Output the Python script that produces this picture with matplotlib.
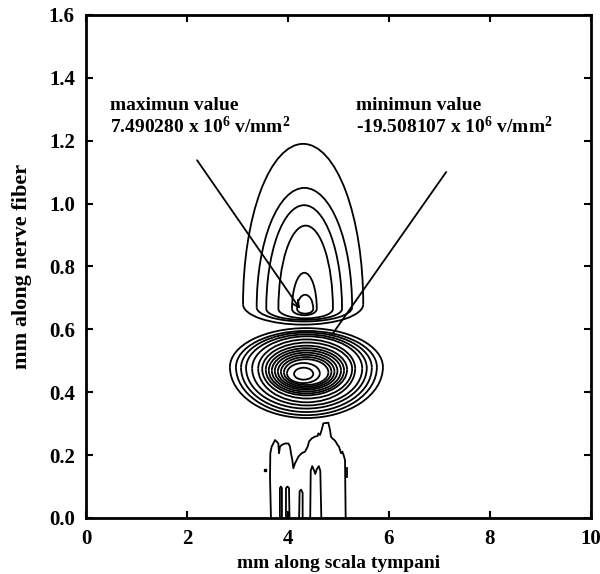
import matplotlib
matplotlib.use("Agg")
import matplotlib.pyplot as plt
from matplotlib.patches import Arc

plt.rcParams['font.family'] = ['Liberation Serif', 'DejaVu Serif']
plt.rcParams['font.weight'] = 'bold'
plt.rcParams['axes.labelweight'] = 'bold'
plt.rcParams['mathtext.fontset'] = 'custom'
plt.rcParams['mathtext.rm'] = 'Liberation Serif:bold'
plt.rcParams['mathtext.it'] = 'Liberation Serif:bold'
plt.rcParams['mathtext.default'] = 'rm'

# upper (positive) lobe rings: left, right, widest y, top, bottom
up_left = [3.11, 3.38, 3.57, 3.81, 4.08, 4.18]
up_right = [5.49, 5.27, 5.07, 4.89, 4.57, 4.50]
up_mid = [0.68, 0.67, 0.665, 0.665, 0.665, 0.665]
up_top = [1.19, 1.05, 0.995, 0.93, 0.78, 0.71]
up_bot = [0.615, 0.625, 0.63, 0.635, 0.645, 0.65]

# lower (negative) lobe rings
lo_left = [2.85, 2.97, 3.07, 3.17, 3.29, 3.41, 3.49, 3.56, 3.62, 3.68, 3.74, 3.80, 3.86, 3.92, 3.98, 4.12]
lo_right = [5.88, 5.76, 5.66, 5.56, 5.47, 5.33, 5.27, 5.17, 5.11, 5.05, 4.98, 4.92, 4.86, 4.80, 4.63, 4.50]
lo_mid = [0.48, 0.48, 0.478, 0.477, 0.476, 0.475, 0.474, 0.472, 0.470, 0.469, 0.468, 0.466, 0.465, 0.463, 0.460, 0.458]
lo_top = [0.604, 0.595, 0.590, 0.584, 0.578, 0.568, 0.558, 0.548, 0.540, 0.533, 0.526, 0.519, 0.512, 0.505, 0.493, 0.478]
lo_bot = [0.318, 0.327, 0.337, 0.348, 0.358, 0.368, 0.380, 0.390, 0.396, 0.402, 0.408, 0.413, 0.418, 0.423, 0.429, 0.440]

# jagged contour near the bottom
base_x = [3.663, 3.644, 3.650, 3.677, 3.710, 3.743, 3.776, 3.809, 3.822, 3.842, 3.875, 3.941,
          4.007, 4.040, 4.059, 4.086, 4.106, 4.139, 4.172, 4.205, 4.271, 4.337, 4.390, 4.416,
          4.469, 4.535, 4.588, 4.601, 4.634, 4.667, 4.700, 4.799, 4.832, 4.851, 4.878, 4.918,
          4.944, 4.983, 5.010, 5.050, 5.076, 5.102, 5.129, 5.142]
base_y = [0.0, 0.131, 0.206, 0.227, 0.237, 0.248, 0.243, 0.237, 0.206, 0.227, 0.232, 0.237,
          0.237, 0.227, 0.206, 0.184, 0.158, 0.174, 0.184, 0.195, 0.206, 0.211, 0.227, 0.243,
          0.253, 0.259, 0.261, 0.269, 0.264, 0.280, 0.301, 0.303, 0.280, 0.259, 0.253, 0.248,
          0.243, 0.232, 0.227, 0.206, 0.211, 0.200, 0.184, 0.0]

spikes_x = [[3.84, 3.84, 3.86, 3.88, 3.88],
            [3.96, 3.96, 3.99, 4.02, 4.03],
            [4.22, 4.23, 4.26, 4.29, 4.29],
            [4.44, 4.45, 4.48, 4.52, 4.54, 4.57, 4.61, 4.64, 4.66]]
spikes_y = [[0.0, 0.095, 0.10, 0.095, 0.0],
            [0.0, 0.095, 0.10, 0.095, 0.0],
            [0.0, 0.085, 0.09, 0.08, 0.0],
            [0.0, 0.15, 0.165, 0.15, 0.14, 0.155, 0.165, 0.15, 0.0]]

fig = plt.figure(figsize=(6, 5.74), dpi=100)
ax = fig.add_axes([0.1433, 0.0976, 0.8417, 0.8763])

lw = 1.3


def ring(l, r, m, t, b):
    cx = (l + r) / 2
    w = r - l
    ax.add_patch(Arc((cx, m), w, 2 * (t - m), theta1=0, theta2=180, color='black', lw=lw))
    ax.add_patch(Arc((cx, m), w, 2 * (m - b), theta1=180, theta2=360, color='black', lw=lw))


for i in range(len(up_left)):
    ring(up_left[i], up_right[i], up_mid[i], up_top[i], up_bot[i])
for i in range(len(lo_left)):
    ring(lo_left[i], lo_right[i], lo_mid[i], lo_top[i], lo_bot[i])

ax.plot(base_x, base_y, color='black', lw=lw)
for sx, sy in zip(spikes_x, spikes_y):
    ax.plot(sx, sy, color='black', lw=lw)
ax.plot([3.545], [0.153], 's', color='black', ms=2)
ax.plot([5.16, 5.16], [0.13, 0.16], color='black', lw=lw)

# annotations
ax.text(0.475, 1.34, 'maximun value\n7.490280 x 10$^{6}$ v/mm$^{2}$',
        fontsize=14, va='top', ha='left', linespacing=1.1)
ax.text(5.35, 1.34, 'minimun value\n-19.508107 x 10$^{6}$ v/mm$^{2}$',
        fontsize=14, va='top', ha='left', linespacing=1.1)
ax.annotate('', xy=(4.24, 0.665), xytext=(2.2, 1.138),
            arrowprops=dict(arrowstyle='->', color='black', lw=lw,
                            shrinkA=0, shrinkB=0, mutation_scale=12))
ax.plot([7.13, 4.88], [1.10, 0.585], color='black', lw=lw)

ax.set_xlim(0, 10)
ax.set_ylim(0, 1.6)
ax.set_xticks([0, 2, 4, 6, 8, 10])
ax.set_yticks([0.0, 0.2, 0.4, 0.6, 0.8, 1.0, 1.2, 1.4, 1.6])
ax.set_yticklabels(['0.0', '0.2', '0.4', '0.6', '0.8', '1.0', '1.2', '1.4', '1.6'])
ax.tick_params(direction='in', length=5, width=1.5, top=True, right=True,
               labelsize=15, pad=8)
for s in ax.spines.values():
    s.set_linewidth(2)

ax.set_xlabel('mm along scala tympani', fontsize=14, labelpad=4)
ax.set_ylabel('mm along nerve fiber', fontsize=16, labelpad=12)

fig.savefig('out.png', dpi=100)
